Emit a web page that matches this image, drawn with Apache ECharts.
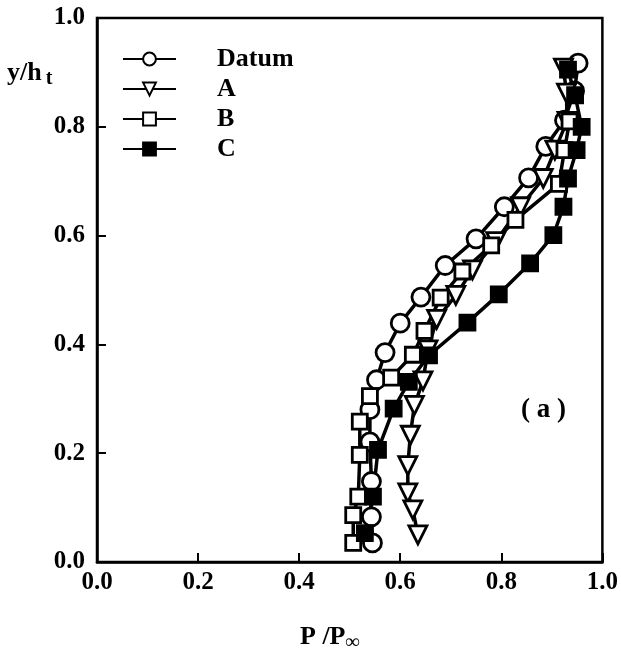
<!DOCTYPE html>
<html>
<head>
<meta charset="utf-8">
<script src="https://cdn.jsdelivr.net/npm/echarts@6/dist/echarts.min.js"></script>
<style>
  html, body { margin: 0; padding: 0; background: #fff; }
  #chart { width: 621px; height: 666px; }
</style>
</head>
<body>
<div id="chart"></div>
<script>
// 各组数据 (P/P∞, y/h_t)，从上到下
const seriesNames = ['Datum', 'A', 'B', 'C']
const xTicks = [0.0, 0.2, 0.4, 0.6, 0.8, 1.0]
const yTicks = [0.0, 0.2, 0.4, 0.6, 0.8, 1.0]

const datumP = [0.952, 0.945, 0.925, 0.888, 0.854, 0.806, 0.750, 0.689, 0.641, 0.600, 0.570, 0.553, 0.540, 0.540, 0.543, 0.543, 0.545]
const datumY = [0.917, 0.866, 0.812, 0.764, 0.706, 0.653, 0.594, 0.545, 0.487, 0.439, 0.385, 0.335, 0.280, 0.221, 0.148, 0.083, 0.035]

const aP = [0.923, 0.929, 0.930, 0.906, 0.883, 0.838, 0.789, 0.743, 0.710, 0.672, 0.655, 0.645, 0.628, 0.620, 0.615, 0.615, 0.625, 0.635]
const aY = [0.908, 0.862, 0.810, 0.757, 0.705, 0.653, 0.589, 0.537, 0.490, 0.446, 0.390, 0.333, 0.288, 0.233, 0.177, 0.127, 0.096, 0.050]

const bP = [0.935, 0.925, 0.914, 0.828, 0.780, 0.723, 0.680, 0.648, 0.625, 0.582, 0.540, 0.520, 0.520, 0.517, 0.507, 0.507]
const bY = [0.810, 0.757, 0.695, 0.629, 0.582, 0.534, 0.486, 0.425, 0.381, 0.339, 0.305, 0.258, 0.197, 0.120, 0.086, 0.035]

const cP = [0.932, 0.946, 0.959, 0.949, 0.932, 0.923, 0.903, 0.857, 0.795, 0.733, 0.657, 0.617, 0.587, 0.556, 0.546, 0.530]
const cY = [0.905, 0.858, 0.800, 0.757, 0.705, 0.653, 0.601, 0.549, 0.492, 0.440, 0.380, 0.331, 0.282, 0.206, 0.120, 0.053]

const zip = (xs, ys) => xs.map((x, i) => [x, ys[i]])

const serif = '"Liberation Serif", "DejaVu Serif", serif'
const lineStyle = { color: '#000', width: 3.5 }

const makeSeries = (name, data, symbol, fill, size, rotate) => ({
    name: name,
    type: 'line',
    data: data,
    symbol: symbol,
    symbolSize: size,
    symbolRotate: rotate || 0,
    showAllSymbol: true,
    lineStyle: lineStyle,
    itemStyle: {
        color: fill,
        borderColor: '#000',
        borderWidth: 2.8
    },
    emphasis: { disabled: true },
    z: 3
})

const chart = echarts.init(document.getElementById('chart'))
const option = {
    backgroundColor: '#fff',
    animation: false,
    grid: {
        left: 97,
        right: 15,
        top: 18,
        bottom: 104,
        show: true,
        borderColor: '#000',
        borderWidth: 2.5,
        backgroundColor: 'transparent'
    },
    legend: {
        orient: 'vertical',
        left: 122,
        top: 46,
        padding: 0,
        itemWidth: 53,
        itemHeight: 16,
        itemGap: 4,
        data: seriesNames,
        textStyle: {
            fontFamily: serif,
            fontWeight: 'bold',
            fontSize: 26,
            color: '#000',
            padding: [0, 0, 0, 36]
        }
    },
    xAxis: {
        type: 'value',
        min: 0,
        max: 1,
        interval: 0.2,
        axisLine: { lineStyle: { color: '#000', width: 2.5 } },
        axisTick: { inside: true, length: 9, lineStyle: { color: '#000', width: 2 } },
        axisLabel: {
            fontFamily: serif,
            fontWeight: 'bold',
            fontSize: 25,
            color: '#000',
            margin: 8,
            formatter: v => v.toFixed(1)
        },
        splitLine: { show: false }
    },
    yAxis: {
        type: 'value',
        min: 0,
        max: 1,
        interval: 0.2,
        axisLine: { lineStyle: { color: '#000', width: 2.5 } },
        axisTick: { inside: true, length: 9, lineStyle: { color: '#000', width: 2 } },
        axisLabel: {
            fontFamily: serif,
            fontWeight: 'bold',
            fontSize: 25,
            color: '#000',
            margin: 12,
            formatter: v => v.toFixed(1)
        },
        splitLine: { show: false }
    },
    graphic: [
        {
            type: 'text',
            left: 7,
            top: 60,
            style: {
                text: '{m|y/h}{s|t}',
                rich: {
                    m: { fontFamily: serif, fontWeight: 'bold', fontSize: 26, fill: '#000' },
                    s: { fontFamily: serif, fontWeight: 'bold', fontSize: 20, fill: '#000', padding: [12, 0, 0, 4] }
                }
            }
        },
        {
            type: 'text',
            left: 300,
            top: 624,
            style: {
                text: '{m|P /P}{s|∞}',
                rich: {
                    m: { fontFamily: serif, fontWeight: 'bold', fontSize: 26, fill: '#000' },
                    s: { fontFamily: serif, fontWeight: 'bold', fontSize: 20, fill: '#000', padding: [12, 0, 0, 0] }
                }
            }
        },
        {
            type: 'text',
            left: 521,
            top: 397,
            style: {
                text: '( a )',
                fontFamily: serif,
                fontWeight: 'bold',
                fontSize: 27,
                fill: '#000'
            }
        }
    ],
    series: [
        makeSeries('Datum', zip(datumP, datumY), 'circle', '#fff', 18),
        makeSeries('A', zip(aP, aY), 'triangle', '#fff', 18, 180),
        makeSeries('B', zip(bP, bY), 'rect', '#fff', 15),
        makeSeries('C', zip(cP, cY), 'rect', '#000', 15)
    ]
}
chart.setOption(option)
</script>
</body>
</html>
